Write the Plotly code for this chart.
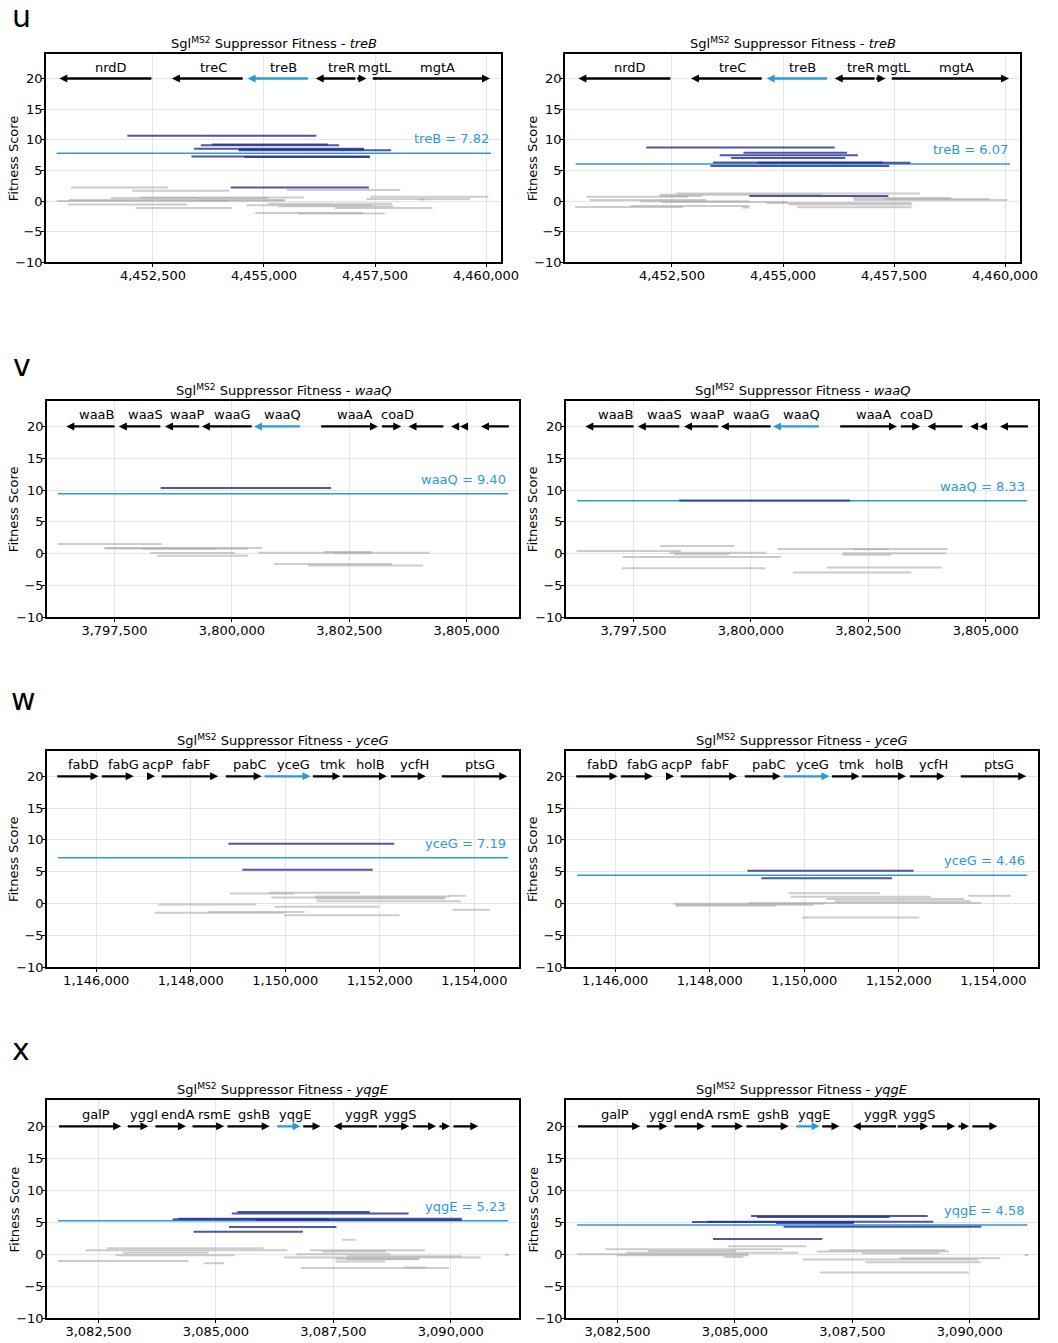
import plotly.graph_objects as go

# ---------------- panel u : treB ----------------
u_target = "treB"
u_region = (4450330, 4460110)
u_gene_names = ["nrdD", "treC", "treB", "treR", "mgtL", "mgtA"]
u_gene_start = [4450391, 4452926, 4454631, 4456164, 4457099, 4457450]
u_gene_end = [4452463, 4454519, 4455992, 4457061, 4457308, 4460090]
u_gene_strand = ["-", "-", "-", "-", "+", "+"]

u_a_score = 7.82
u_a_sig_start = [4451924, 4453831, 4453577, 4453427, 4454429, 4454429, 4453367, 4454556, 4454250]
u_a_sig_end = [4456179, 4456441, 4456688, 4457249, 4457862, 4457249, 4457383, 4457383, 4457361]
u_a_sig_fit = [10.68, 9.23, 9.12, 8.53, 8.31, 8.42, 7.29, 7.18, 2.23]
u_a_ns_start = [4450653, 4452036, 4455514, 4457398, 4451550, 4452223, 4457308, 4450616, 4450331, 4453510,
                4455102, 4450578, 4454616, 4455327, 4452111, 4456598, 4454803, 4455775, 4458482]
u_a_ns_end = [4452837, 4454220, 4458071, 4460053, 4455080, 4455902, 4459641, 4455476, 4454220, 4455454,
              4457884, 4453270, 4457435, 4457907, 4454280, 4458796, 4457234, 4457720, 4458632]
u_a_ns_fit = [2.23, 1.69, 1.80, 0.72, 0.50, 0.61, 0.34, 0.18, 0.00, 0.07,
              -0.41, -0.57, -0.68, -0.84, -1.11, -1.11, -1.92, -2.03, 0.28]

u_b_score = 6.07
u_b_sig_start = [4451919, 4454109, 4453573, 4453833, 4453424, 4454429, 4453364, 4454243]
u_b_sig_end = [4456164, 4456440, 4456686, 4456403, 4457244, 4457870, 4457393, 4457371]
u_b_sig_fit = [8.74, 7.88, 7.50, 7.02, 6.32, 6.27, 5.73, 0.83]
u_b_ns_start = [4452604, 4452217, 4452232, 4450578, 4456574, 4457297, 4450653, 4456589, 4451785, 4452254,
                4454615, 4455122, 4451562, 4450318, 4455323, 4454079]
u_b_ns_end = [4458079, 4455881, 4453185, 4452850, 4458786, 4459643, 4453275, 4460052, 4454243, 4455099,
              4457892, 4457915, 4454243, 4452753, 4457892, 4454243]
u_b_ns_fit = [1.26, 1.04, 0.83, 0.72, 0.50, 0.34, 0.18, 0.18, -0.04, -0.14,
              -0.31, -0.57, -0.79, -0.95, -1.01, -1.06]

# ---------------- panel v : waaQ ----------------
v_target = "waaQ"
v_region = (3796297, 3805884)
v_gene_names = ["waaB", "waaS", "waaP", "waaG", "waaQ", "waaA", "coaD", "", "", "", ""]
v_gene_start = [3796474, 3797592, 3798575, 3799361, 3800472, 3801901, 3803195, 3803761, 3804667, 3804858, 3805304]
v_gene_end = [3797500, 3798476, 3799304, 3800422, 3801448, 3803110, 3803606, 3804504, 3804844, 3805021, 3805898]
v_gene_strand = ["-", "-", "-", "-", "-", "+", "+", "-", "-", "-", "-"]

v_a_score = 9.40
v_a_sig_start = [3798483]
v_a_sig_end = [3802113]
v_a_sig_fit = [10.31]
v_a_ns_start = [3796297, 3797274, 3797309, 3798087, 3800563, 3801957, 3802170, 3798264, 3798399, 3800896, 3801618]
v_a_ns_end = [3798512, 3800648, 3799658, 3800330, 3804207, 3802983, 3802962, 3800061, 3800344, 3803408, 3804066]
v_a_ns_fit = [1.51, 0.89, 0.83, 0.78, 0.16, 0.26, 0.05, 0.10, -0.31, -1.61, -1.87]

v_b_score = 8.33
v_b_sig_start = [3798474]
v_b_sig_end = [3802108]
v_b_sig_fit = [8.36]
v_b_ns_start = [3798072, 3800569, 3802178, 3796286, 3798262, 3798368, 3801952, 3801952, 3797274, 3801614,
                3797253, 3800894]
v_b_ns_end = [3799645, 3804189, 3802940, 3798509, 3800329, 3799546, 3804154, 3802990, 3800640, 3804069,
              3800308, 3803413]
v_b_ns_fit = [1.20, 0.73, 0.68, 0.42, 0.16, -0.10, 0.05, -0.16, -0.52, -2.19, -2.29, -2.97]

# ---------------- panel w : yceG ----------------
w_target = "yceG"
w_region = (1145192, 1154717)
w_gene_names = ["fabD", "fabG", "acpP", "fabF", "pabC", "yceG", "tmk", "holB", "ycfH", "ptsG"]
w_gene_start = [1145177, 1146120, 1147076, 1147385, 1148742, 1149564, 1150584, 1151216, 1152236, 1153311]
w_gene_end = [1146049, 1146794, 1147244, 1148580, 1149501, 1150534, 1151167, 1152151, 1152974, 1154696]
w_gene_strand = ["+", "+", "+", "+", "+", "+", "+", "+", "+", "+"]

w_a_score = 7.19
w_a_sig_start = [1148798, 1149093]
w_a_sig_end = [1152306, 1151849]
w_a_sig_fit = [9.41, 5.31]
w_a_ns_start = [1149656, 1148826, 1153466, 1150626, 1149705, 1150640, 1150675, 1147315, 1149775, 1153536,
                1148376, 1147230, 1149972]
w_a_ns_end = [1151589, 1150183, 1153817, 1153487, 1153382, 1153380, 1153719, 1149388, 1151990, 1154331,
              1150408, 1149972, 1152418]
w_a_ns_fit = [1.68, 1.58, 1.21, 1.11, 0.95, 0.80, 0.38, -0.14, -0.50, -0.97, -1.33, -1.43, -1.85]

w_b_score = 4.46
w_b_sig_start = [1148798, 1149093]
w_b_sig_end = [1152313, 1151856]
w_b_sig_fit = [5.16, 3.96]
w_b_ns_start = [1149663, 1153473, 1149712, 1150464, 1150647, 1148833, 1147230, 1147286, 1147286, 1149958]
w_b_ns_end = [1151596, 1154366, 1152679, 1153382, 1153529, 1153740, 1150436, 1150190, 1149410, 1152432]
w_b_ns_fit = [1.63, 1.21, 1.06, 0.70, 0.38, 0.07, -0.03, -0.19, -0.34, -2.21]

# ---------------- panel x : yqgE ----------------
x_target = "yqgE"
x_region = (3081637, 3091223)
x_gene_names = ["galP", "yggI", "endA", "rsmE", "gshB", "yqgE", "", "yggR", "yggS", "", "", ""]
x_gene_start = [3081658, 3083123, 3083710, 3084502, 3085245, 3086306, 3086858, 3087509, 3088464, 3089193,
                3089759, 3090056]
x_gene_end = [3082981, 3083561, 3084361, 3085174, 3086144, 3086802, 3087226, 3088429, 3089115, 3089688,
              3089985, 3090587]
x_gene_strand = ["+", "+", "+", "+", "+", "+", "+", "-", "+", "+", "+", "+"]

x_a_score = 5.23
x_a_sig_start = [3085457, 3085337, 3084198, 3084078, 3085846, 3085280, 3084523]
x_a_sig_end = [3088273, 3089101, 3090233, 3087403, 3090233, 3087566, 3086851]
x_a_sig_fit = [6.58, 6.38, 5.55, 5.45, 5.35, 4.24, 3.52]
x_a_ns_start = [3087686, 3082677, 3082224, 3087000, 3087261, 3083016, 3086717, 3082861, 3087792, 3086448,
                3087544, 3087771, 3081637, 3087544, 3084736, 3089009, 3086802, 3091153]
x_a_ns_end = [3087969, 3086009, 3086519, 3089455, 3088627, 3084842, 3088712, 3085401, 3090233, 3090636,
              3089327, 3089327, 3084417, 3088606, 3085174, 3089469, 3089964, 3091238]
x_a_ns_fit = [2.27, 0.92, 0.60, 0.60, 0.40, 0.24, -0.02, -0.18, -0.33, -0.54,
              -0.70, -0.80, -1.06, -1.16, -1.42, -2.10, -2.15, -0.12]

x_b_score = 4.58
x_b_sig_start = [3085343, 3085470, 3084087, 3084412, 3085872, 3086035, 3084532]
x_b_sig_end = [3089103, 3088292, 3087530, 3089223, 3087530, 3090246, 3086860]
x_b_sig_fit = [5.96, 5.80, 5.02, 5.08, 4.87, 4.30, 2.37]
x_b_ns_start = [3084849, 3082239, 3087001, 3083156, 3086740, 3082683, 3087707, 3081639, 3082486, 3084758,
                3088504, 3086437, 3087777, 3086811, 3091164]
x_b_ns_end = [3086521, 3086013, 3089484, 3085026, 3089562, 3086352, 3089343, 3085273, 3085294, 3085181,
              3090649, 3090176, 3090232, 3089978, 3091248]
x_b_ns_fit = [1.23, 0.76, 0.60, 0.50, 0.40, 0.24, 0.14, -0.02, -0.18, -0.44,
              -0.64, -0.85, -1.27, -2.88, -0.12]

panel_letters = ["u", "v", "w", "x"]

panels = [
    dict(target=u_target, region=u_region, dtick=2500,
         genes=(u_gene_names, u_gene_start, u_gene_end, u_gene_strand),
         reps=[(u_a_score, u_a_sig_start, u_a_sig_end, u_a_sig_fit, u_a_ns_start, u_a_ns_end, u_a_ns_fit),
               (u_b_score, u_b_sig_start, u_b_sig_end, u_b_sig_fit, u_b_ns_start, u_b_ns_end, u_b_ns_fit)]),
    dict(target=v_target, region=v_region, dtick=2500,
         genes=(v_gene_names, v_gene_start, v_gene_end, v_gene_strand),
         reps=[(v_a_score, v_a_sig_start, v_a_sig_end, v_a_sig_fit, v_a_ns_start, v_a_ns_end, v_a_ns_fit),
               (v_b_score, v_b_sig_start, v_b_sig_end, v_b_sig_fit, v_b_ns_start, v_b_ns_end, v_b_ns_fit)]),
    dict(target=w_target, region=w_region, dtick=2000,
         genes=(w_gene_names, w_gene_start, w_gene_end, w_gene_strand),
         reps=[(w_a_score, w_a_sig_start, w_a_sig_end, w_a_sig_fit, w_a_ns_start, w_a_ns_end, w_a_ns_fit),
               (w_b_score, w_b_sig_start, w_b_sig_end, w_b_sig_fit, w_b_ns_start, w_b_ns_end, w_b_ns_fit)]),
    dict(target=x_target, region=x_region, dtick=2500,
         genes=(x_gene_names, x_gene_start, x_gene_end, x_gene_strand),
         reps=[(x_a_score, x_a_sig_start, x_a_sig_end, x_a_sig_fit, x_a_ns_start, x_a_ns_end, x_a_ns_fit),
               (x_b_score, x_b_sig_start, x_b_sig_end, x_b_sig_fit, x_b_ns_start, x_b_ns_end, x_b_ns_fit)]),
]

# ---------------- styling / layout ----------------
FIG_W, FIG_H = 1058, 1343
FONT = "DejaVu Sans"
TARGET_COLOR = "#2b9ad6"
SIG_COLOR = "rgba(36, 50, 145, 0.82)"
NS_COLOR = "rgba(170, 170, 170, 0.6)"
GRID_COLOR = "#e4e4e4"
GENE_Y = 20
Y_RANGE = [-10, 24.05]
HEAD_PX = 8

ROW_PX = [(54, 264), (403, 621), (755, 973), (1107, 1326)]
COL_PX = [[(47, 510), (575, 1038)],
          [(48, 528), (576, 1056)],
          [(48, 528), (576, 1056)],
          [(48, 528), (576, 1056)]]
LETTER_PX = [(22, 17), (22, 368), (24, 704), (21, 1056)]

fig = go.Figure()
axes = {}
notes = []


def seg_trace(x0, x1, y, color, width, xa, ya):
    return go.Scatter(x=[x0, x1], y=[y, y], mode="lines",
                      line=dict(color=color, width=width),
                      xaxis=xa, yaxis=ya, showlegend=False, hoverinfo="skip")


axis_common = dict(showline=True, mirror=True, linecolor="black", linewidth=2,
                   showgrid=True, gridcolor=GRID_COLOR, gridwidth=1, zeroline=False,
                   ticks="outside", ticklen=3, tickcolor="black",
                   tickfont=dict(size=13, color="black", family=FONT))

k = 0
for r, p in enumerate(panels):
    names, starts, ends, strands = p["genes"]
    lo, hi = p["region"]
    pad = 0.024 * (hi - lo)
    xr = [lo - pad, hi + pad]
    top, bot = ROW_PX[r]
    for c, rep in enumerate(p["reps"]):
        score, s_st, s_en, s_fit, n_st, n_en, n_fit = rep
        k += 1
        xa = "x" if k == 1 else f"x{k}"
        ya = "y" if k == 1 else f"y{k}"
        x0, x1 = COL_PX[r][c]
        px_per_bp = (x1 - x0) / (xr[1] - xr[0])

        axes["xaxis" if k == 1 else f"xaxis{k}"] = dict(
            domain=[x0 / FIG_W, x1 / FIG_W], anchor=ya, range=xr,
            tick0=0, dtick=p["dtick"], tickformat=",d", ticklabelstandoff=-3, **axis_common)
        axes["yaxis" if k == 1 else f"yaxis{k}"] = dict(
            domain=[1 - bot / FIG_H, 1 - top / FIG_H], anchor=xa, range=Y_RANGE,
            tick0=0, dtick=5, ticklabelstandoff=-4, **axis_common)

        # gene-level fitness line
        fig.add_trace(seg_trace(lo, hi, score, TARGET_COLOR, 1.5, xa, ya))
        # fragment fitness: non-significant then significant
        for a, b, v in zip(n_st, n_en, n_fit):
            fig.add_trace(seg_trace(a, b, v, NS_COLOR, 2, xa, ya))
        for a, b, v in zip(s_st, s_en, s_fit):
            fig.add_trace(seg_trace(a, b, v, SIG_COLOR, 2, xa, ya))

        # gene arrows: shaft as a line, head as an arrow marker whose tip sits on the gene end
        back = (HEAD_PX - 2) / px_per_bp
        for name, a, b, sd in zip(names, starts, ends, strands):
            col = TARGET_COLOR if name == p["target"] else "black"
            if sd == "+":
                head, shaft = b, [a, b - back]
                sym = "arrow-right"
            else:
                head, shaft = a, [a + back, b]
                sym = "arrow-left"
            fig.add_trace(go.Scatter(x=shaft, y=[GENE_Y, GENE_Y], mode="lines",
                                     line=dict(color=col, width=2.3),
                                     xaxis=xa, yaxis=ya, showlegend=False, hoverinfo="skip"))
            fig.add_trace(go.Scatter(x=[head], y=[GENE_Y], mode="markers",
                                     marker=dict(symbol=sym, size=HEAD_PX, color=col,
                                                 line=dict(width=0)),
                                     xaxis=xa, yaxis=ya, showlegend=False, hoverinfo="skip"))

        # gene labels, nudged right when they would collide
        order = sorted(range(len(names)), key=lambda i: starts[i] + ends[i])
        prev_right = -1e18
        for i in order:
            if not names[i]:
                continue
            half = len(names[i]) * 0.62 * 13 / 2 / px_per_bp
            cx = (starts[i] + ends[i]) / 2 + 6 / px_per_bp
            if cx - half < prev_right + 2 / px_per_bp:
                cx = prev_right + 2 / px_per_bp + half
            prev_right = cx + half
            notes.append(dict(x=cx, y=GENE_Y, xref=xa, yref=ya, text=names[i],
                              showarrow=False, yanchor="bottom", yshift=2,
                              font=dict(size=13, color="black", family=FONT)))

        # gene-level score label
        notes.append(dict(x=hi, y=score, xref=xa, yref=ya,
                          text=f"{p['target']} = {score:.2f}",
                          showarrow=False, xanchor="right", yanchor="bottom", yshift=5,
                          font=dict(size=13, color=TARGET_COLOR, family=FONT)))
        # panel title
        notes.append(dict(x=0.5, y=1, xref=f"{xa} domain", yref=f"{ya} domain",
                          text=f"Sgl<sup>MS2</sup> Suppressor Fitness - <i>{p['target']}</i>",
                          showarrow=False, yanchor="bottom", yshift=1,
                          font=dict(size=13, color="black", family=FONT)))
        # y-axis title
        notes.append(dict(x=0, y=0.5, xref=f"{xa} domain", yref=f"{ya} domain",
                          text="Fitness Score", textangle=-90, showarrow=False,
                          xanchor="center", yanchor="middle", xshift=-33,
                          font=dict(size=13, color="black", family=FONT)))

    lx, ly = LETTER_PX[r]
    notes.append(dict(x=lx / FIG_W, y=1 - ly / FIG_H, xref="paper", yref="paper",
                      text=panel_letters[r], showarrow=False,
                      xanchor="center", yanchor="middle",
                      font=dict(size=30, color="black", family=FONT)))

fig.update_layout(
    width=FIG_W, height=FIG_H, autosize=False,
    margin=dict(l=0, r=0, t=0, b=0),
    paper_bgcolor="white", plot_bgcolor="white",
    font=dict(family=FONT, size=13, color="black"),
    showlegend=False,
    annotations=notes,
    **axes,
)

fig.write_html("out.html")
